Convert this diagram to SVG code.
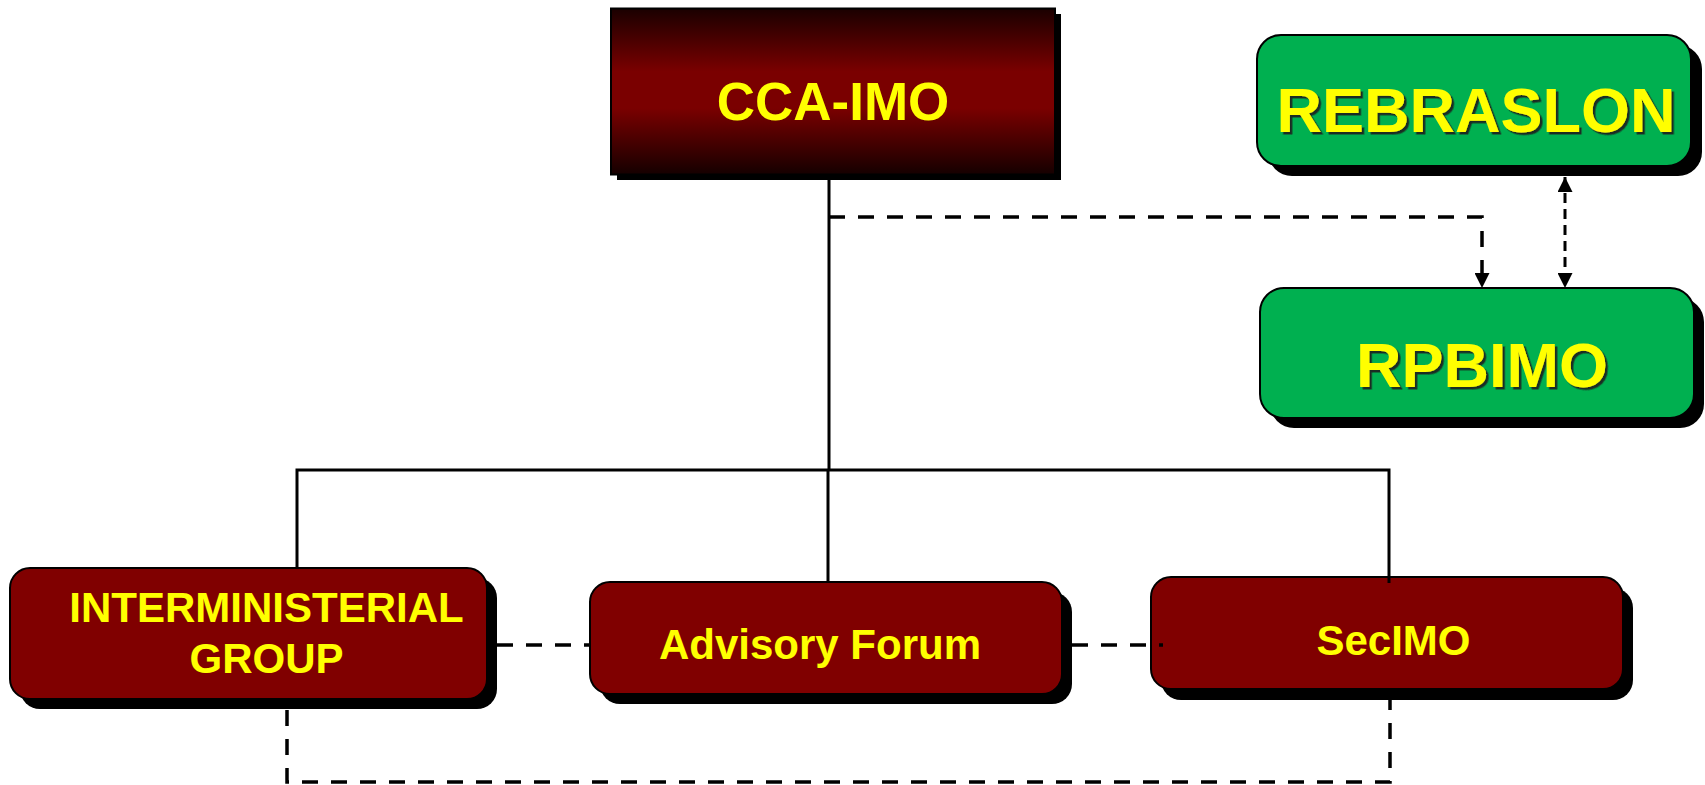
<svg xmlns="http://www.w3.org/2000/svg" width="1705" height="785" viewBox="0 0 1705 785">
<style>
.solid{fill:none;stroke:#000;stroke-width:3}
.dash{fill:none;stroke:#000;stroke-width:3.5;stroke-dasharray:16 13}
.dash2{fill:none;stroke:#000;stroke-width:3;stroke-dasharray:10 6}
.maroon{fill:#800000;stroke:#000;stroke-width:2}
.green{fill:#00b050;stroke:#000;stroke-width:2}
.shadow{fill:#000}
.lbl{font-family:"Liberation Sans",Arial,sans-serif;font-weight:bold;fill:#ffff00;text-anchor:middle}
.glbl{filter:url(#ts)}
</style>
<defs>
<linearGradient id="cca" x1="0" y1="0" x2="0" y2="1">
<stop offset="0" stop-color="#1a0000"/>
<stop offset="0.38" stop-color="#7a0000"/>
<stop offset="0.6" stop-color="#7a0000"/>
<stop offset="1" stop-color="#150000"/>
</linearGradient>
<filter id="ts" x="-10%" y="-20%" width="120%" height="140%">
<feDropShadow dx="2.5" dy="2.5" stdDeviation="0.6" flood-color="#1a1a1a" flood-opacity="0.9"/>
</filter>
<marker id="arr" markerUnits="userSpaceOnUse" markerWidth="15" markerHeight="15" viewBox="0 0 14 14" refX="14" refY="7" orient="auto-start-reverse">
<path d="M0,0 L14,7 L0,14 z" fill="#000"/>
</marker>
</defs>

<g id="node-cca-imo">
<rect class="shadow" x="617" y="14" width="444" height="166"/>
<rect x="611" y="8.5" width="444" height="166" fill="url(#cca)" stroke="#000" stroke-width="2"/>
<text class="lbl" x="833" y="120" font-size="53">CCA-IMO</text>
</g>

<g id="node-rebraslon">
<rect class="shadow" x="1268" y="45" width="434" height="131" rx="24"/>
<rect class="green" x="1257" y="35" width="434" height="131" rx="24"/>
<text class="lbl glbl" x="1476" y="132" font-size="63">REBRASLON</text>
</g>

<g id="node-rpbimo">
<rect class="shadow" x="1270" y="298" width="434" height="130" rx="24"/>
<rect class="green" x="1260" y="288" width="434" height="130" rx="24"/>
<text class="lbl glbl" x="1482" y="387" font-size="63">RPBIMO</text>
</g>

<g id="node-interministerial">
<rect class="shadow" x="20" y="578" width="477" height="131" rx="20"/>
<rect class="maroon" x="10" y="568" width="477" height="131" rx="20"/>
<text class="lbl" x="266.5" y="622" font-size="42">INTERMINISTERIAL</text>
<text class="lbl" x="266.5" y="673" font-size="42">GROUP</text>
</g>

<g id="node-advisory-forum">
<rect class="shadow" x="600" y="592" width="472" height="112" rx="20"/>
<rect class="maroon" x="590" y="582" width="472" height="112" rx="20"/>
<text class="lbl" x="820" y="659" font-size="42">Advisory Forum</text>
</g>

<g id="node-secimo">
<rect class="shadow" x="1161" y="588" width="472" height="112" rx="20"/>
<rect class="maroon" x="1151" y="577" width="472" height="112" rx="20"/>
<text class="lbl" x="1393.5" y="655" font-size="42">SecIMO</text>
</g>

<g id="connectors">
<path class="solid" d="M829,180 L829,470 M828,470 L828,582"/>
<path class="solid" d="M297,470 L1389,470 M297,468.5 L297,568 M1389,468.5 L1389,583"/>
<path class="dash" d="M829,217 L1482,217 L1482,288" marker-end="url(#arr)"/>
<path class="dash2" d="M1565,177 L1565,288" marker-start="url(#arr)" marker-end="url(#arr)"/>
<path class="dash" d="M497,645 L590,645"/>
<path class="dash" d="M1072,645 L1163,645"/>
<path class="dash" d="M287,710 L287,782 L1390,782 L1390,700"/>
</g>
</svg>
